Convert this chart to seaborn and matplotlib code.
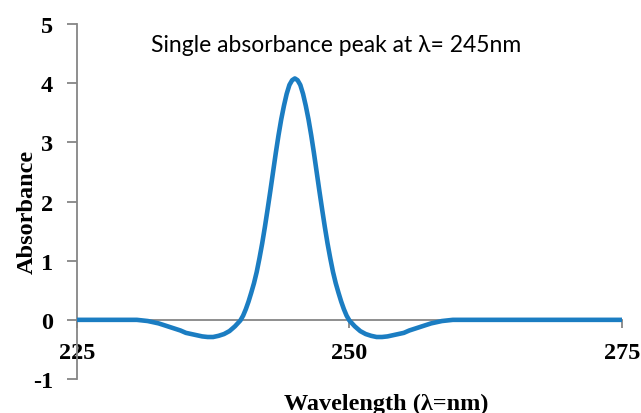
import matplotlib
matplotlib.use("Agg")
import matplotlib.pyplot as plt
import seaborn as sns
import pandas as pd

# ---- data ----
wavelength = [225, 226, 227, 228, 229, 230, 230.5, 231, 231.5, 232, 232.5, 233, 233.5,
              234, 234.5, 235, 235.5, 236, 236.5, 237, 237.5, 238, 238.5,
              239, 239.25, 239.5, 239.75, 240, 240.25, 240.5, 240.75, 241, 241.25,
              241.5, 241.75, 242, 242.25, 242.5, 242.75, 243, 243.25, 243.5, 243.75,
              244, 244.25, 244.5, 244.75, 245, 245.25, 245.5, 245.75, 246, 246.25,
              246.5, 246.75, 247, 247.25, 247.5, 247.75, 248, 248.25, 248.5, 248.75,
              249, 249.25, 249.5, 249.75, 250, 250.25, 250.5, 250.75, 251,
              251.5, 252, 252.5, 253, 253.5, 254, 254.5, 255, 255.5, 256, 256.5,
              257, 257.5, 258, 258.5, 259, 259.5, 260, 261, 262, 263, 264, 265, 266,
              267, 268, 269, 270, 271, 272, 273, 274, 275]
absorbance = [0, 0, 0, 0, 0, 0, 0.00, -0.01, -0.02, -0.04, -0.06, -0.09, -0.12,
              -0.15, -0.18, -0.22, -0.24, -0.26, -0.28, -0.29, -0.29, -0.27, -0.24,
              -0.19, -0.15, -0.11, -0.06, -0.01, 0.07, 0.18, 0.31, 0.46, 0.62,
              0.81, 1.04, 1.29, 1.57, 1.87, 2.18, 2.50, 2.82, 3.12, 3.39,
              3.62, 3.82, 3.97, 4.05, 4.08, 4.05, 3.97, 3.82, 3.62, 3.39,
              3.12, 2.82, 2.50, 2.18, 1.87, 1.57, 1.29, 1.04, 0.81, 0.62,
              0.46, 0.31, 0.18, 0.07, -0.01, -0.06, -0.11, -0.15, -0.19,
              -0.24, -0.27, -0.29, -0.29, -0.28, -0.26, -0.24, -0.22, -0.18, -0.15, -0.12,
              -0.09, -0.06, -0.04, -0.02, -0.01, 0.00, 0, 0, 0, 0, 0, 0, 0,
              0, 0, 0, 0, 0, 0, 0, 0, 0]
x_ticks = [225, 250, 275]
y_ticks = [-1, 0, 1, 2, 3, 4, 5]
title_text = "Single absorbance peak at \u03bb= 245nm"
x_label = "Wavelength (\u03bb=nm)"
y_label = "Absorbance"

df = pd.DataFrame({"Wavelength": wavelength, "Absorbance": absorbance})

sns.set_theme(style="white")
plt.rcParams['font.family'] = ['Liberation Serif', 'DejaVu Serif']
plt.rcParams['font.weight'] = 'bold'
plt.rcParams['axes.unicode_minus'] = False

fig = plt.figure(figsize=(6.41, 4.14), dpi=100)
ax = fig.add_axes([0.120, 0.0821, 0.850, 0.8575])

line_color = "#1B7DC2"
axis_color = "#868686"
fs = 17.5

sns.lineplot(data=df, x="Wavelength", y="Absorbance", ax=ax, color=line_color,
             linewidth=3.3, estimator=None, zorder=3,
             solid_joinstyle="round", solid_capstyle="round")

ax.set_xlim(225, 275)
ax.set_ylim(-1, 5)
ax.set_xticks(x_ticks)
ax.set_yticks(y_ticks)

for s in ["top", "right"]:
    ax.spines[s].set_visible(False)
ax.spines["bottom"].set_position(("data", 0))
for s in ["left", "bottom"]:
    ax.spines[s].set_color(axis_color)
    ax.spines[s].set_linewidth(1.3)

ax.tick_params(axis="y", direction="out", length=7, width=1.3, color=axis_color,
               labelsize=fs, pad=10, left=True)
ax.tick_params(axis="x", direction="out", length=6, width=1.3, color=axis_color,
               labelsize=fs, pad=10, bottom=True)
for lab in ax.get_xticklabels() + ax.get_yticklabels():
    lab.set_fontweight("bold")
    lab.set_color("black")

ax.set_xlabel(x_label, fontsize=fs, fontweight="bold", va="center", color="black")
ax.set_ylabel(y_label, fontsize=fs, fontweight="bold", va="center", color="black")
ax.xaxis.set_label_coords(0.568, -0.068)
ax.yaxis.set_label_coords(-0.0917, 0.473)

fig.text(336 / 641, 1 - 45 / 414, title_text, ha="center", va="center",
         family=["Lato", "DejaVu Sans"], fontweight="normal", fontsize=16.5, color="black")

fig.savefig("out.png", dpi=100)
